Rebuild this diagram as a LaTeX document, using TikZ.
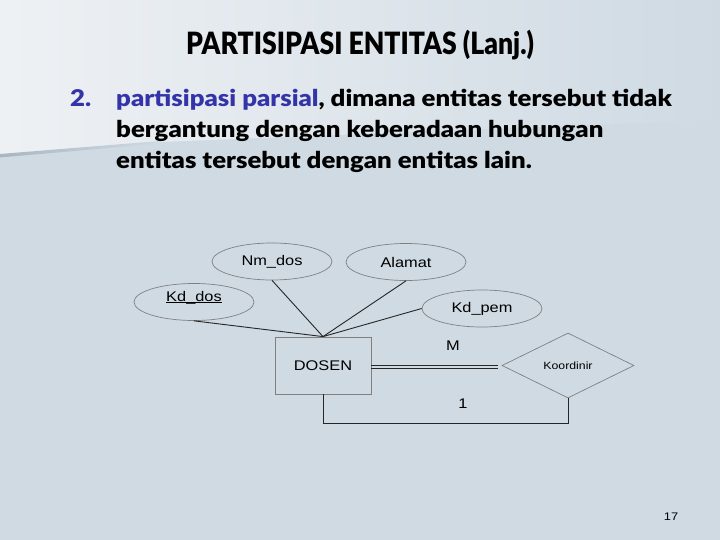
\documentclass[tikz,border=0pt]{standalone}
\usepackage{fontspec}
\setmainfont{Liberation Sans}
\newfontfamily\titlefont{Lato}[UprightFont=* Black, FakeStretch=0.865]
\newfontfamily\bodyfont{Lato}[UprightFont=* Black, FakeStretch=1.12]
\newfontfamily\diagfont{Liberation Sans}[FakeStretch=1.17]
\usetikzlibrary{shapes.geometric}
\definecolor{bgmain}{HTML}{CFDAE3}
\definecolor{bglight}{HTML}{EEF1F4}
\definecolor{bgedge}{HTML}{A9B6C1}
\definecolor{itemblue}{HTML}{3434AA}
\definecolor{shapegray}{HTML}{808080}
\definecolor{linedark}{HTML}{262626}
\tikzset{
  attr/.style={ellipse, draw=shapegray, line width=0.7pt, fill=bgmain, minimum width=120pt, minimum height=37pt, inner sep=0pt, font=\diagfont\fontsize{14}{16}\selectfont},
  entity/.style={rectangle, draw=shapegray, line width=0.8pt, fill=bgmain, minimum width=96pt, minimum height=57pt, inner sep=0pt, font=\diagfont\fontsize{14}{16}\selectfont},
  relation/.style={diamond, draw=shapegray, line width=0.7pt, fill=bgmain, minimum width=132pt, minimum height=65pt, inner sep=0pt, font=\diagfont\fontsize{10.5}{12}\selectfont},
  conn/.style={draw=linedark, line width=0.9pt},
  card/.style={font=\diagfont\fontsize{14}{16}\selectfont, inner sep=0pt},
  bodyline/.style={anchor=base west, inner sep=0pt, font=\bodyfont\fontsize{23}{28}\selectfont}
}
\begin{document}
\begin{tikzpicture}[x=1pt, y=-1pt]
\useasboundingbox (0,0) rectangle (720,540);
% background
\fill[bgmain] (0,0) rectangle (720,540);
\shade[left color=bglight, right color=bgmain] (0,0) -- (720,0) -- (720,120) -- (160,142) -- (0,156) -- cycle;
\shade[left color=bgedge, right color=bgmain] (0,154) -- (160,141) -- (160,143.5) -- (0,157.5) -- cycle;
% title and text
\node[anchor=base west, inner sep=0pt, font=\titlefont\fontsize{30.7}{34}\selectfont] (title) at (186,55) {PARTISIPASI ENTITAS (Lanj.)};
\node[bodyline, text=itemblue] (num) at (70,107) {2.};
\node[bodyline] (l1) at (116,107) {\textcolor{itemblue}{partisipasi parsial}, dimana entitas tersebut tidak};
\node[bodyline] (l2) at (116,138) {bergantung dengan keberadaan hubungan};
\node[bodyline] (l3) at (116,169) {entitas tersebut dengan entitas lain.};
% diagram
\node[attr] (nm) at (272,261.5) {Nm\_dos};
\node[attr] (al) at (406,262) {Alamat};
\node[attr] (kd) at (194,302) {\underline{\smash{Kd\_dos}}};
\node[attr] (kp) at (482,308.5) {Kd\_pem};
\node[entity] (dosen) at (323,365.5) {DOSEN};
\node[relation] (koor) at (568,365.5) {Koordinir};
\draw[conn] (kd.south) -- (dosen.north);
\draw[conn] (nm.south) -- (dosen.north);
\draw[conn] (al.south) -- (dosen.north);
\draw[conn] (kp.west) -- (dosen.north);
\coordinate (dend) at ([xshift=-4pt]koor.west);
\draw[conn, line width=0.8pt] ([yshift=0.3pt]dosen.east) -- ([yshift=0.3pt]dend);
\draw[conn, line width=0.8pt] ([yshift=-2.7pt]dosen.east) -- ([yshift=-2.7pt]dend);
\draw[conn] (dosen.south) -- ++(0,29) -| (koor.south);
\node[card] (m) at (453,346) {M};
\node[card] (one) at (463,404) {1};
\node[font=\diagfont\fontsize{11}{12}\selectfont, inner sep=0pt] (page) at (671,517) {17};
\end{tikzpicture}
\end{document}
